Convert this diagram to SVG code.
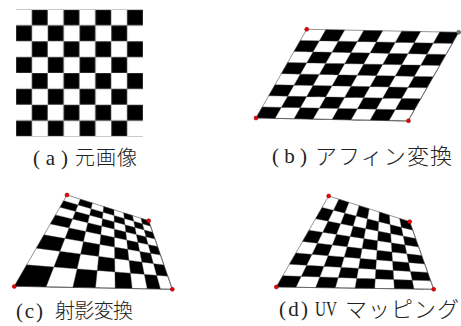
<svg xmlns="http://www.w3.org/2000/svg" width="461" height="326" viewBox="0 0 461 326">
<style>
.board{fill:#fff;stroke:#666;stroke-width:0.7}
.chk{fill:#000;fill-rule:evenodd;stroke:#555;stroke-width:0.4}
.dot{fill:#e00;stroke:#800;stroke-width:0.5}
.dotg{fill:#777;stroke:#444;stroke-width:0.5}
.lbl{font-family:"Liberation Serif","Noto Sans CJK JP",serif;font-size:21px;fill:#222}
.cjk{font-family:"Noto Sans CJK JP",sans-serif;font-size:20px;fill:#222;font-weight:300}
.big{font-size:22px}
</style>
<defs>
<pattern id="chkpat" patternUnits="userSpaceOnUse" x="16" y="9.5" width="31.75" height="31.75">
<rect x="0" y="0" width="31.75" height="31.75" fill="#fff"/>
<rect x="15.875" y="0" width="15.875" height="15.875" fill="#000" stroke="#888" stroke-width="0.6"/>
<rect x="0" y="15.875" width="15.875" height="15.875" fill="#000" stroke="#888" stroke-width="0.6"/>
</pattern>
</defs>
<rect width="461" height="326" fill="#fff"/>

<g id="fig-a">
<rect x="16" y="9.5" width="127" height="127" fill="url(#chkpat)"/>
<text class="lbl" x="33" y="165" textLength="35" lengthAdjust="spacing">(a)</text>
<text class="cjk" x="75" y="165" textLength="62" lengthAdjust="spacing">元画像</text>
</g>

<g id="fig-b">
<path class="board" d="M306.7,29.3 L458.7,32.3 L408,121 L256,118Z"/>
<path class="chk" d="M325.7,29.68 L344.7,30.05 L294,118.75 L275,118.38Z M363.7,30.43 L382.7,30.8 L332,119.5 L313,119.13Z M401.7,31.18 L420.7,31.55 L370,120.25 L351,119.88Z M439.7,31.93 L458.7,32.3 L408,121 L389,120.63Z M300.36,40.39 L452.36,43.39 L446.03,54.48 L294.03,51.48Z M287.69,62.56 L439.69,65.56 L433.35,76.65 L281.35,73.65Z M275.01,84.74 L427.01,87.74 L420.68,98.83 L268.68,95.83Z M262.34,106.91 L414.34,109.91 L408,121 L256,118Z"/>
<circle class="dot" cx="306.7" cy="29.3" r="2"/>
<circle class="dotg" cx="458.7" cy="32.3" r="2"/>
<circle class="dot" cx="256" cy="118" r="2"/>
<circle class="dot" cx="408.5" cy="120.8" r="2"/>
<text class="lbl" x="272" y="163" textLength="35" lengthAdjust="spacing">(b)</text>
<text class="cjk big" x="315" y="164" textLength="137" lengthAdjust="spacing">アフィン変換</text>
</g>

<g id="fig-c">
<path class="board" d="M67,195 L148.7,220.7 L172.3,289.3 L14.3,286.3Z"/>
<path class="chk" d="M80.24,199.17 L92.41,202.99 L72.79,287.41 L46.09,286.9Z M103.63,206.52 L114,209.78 L115.13,288.21 L95.53,287.84Z M123.62,212.81 L132.56,215.62 L147.18,288.82 L132.19,288.54Z M140.9,218.25 L148.7,220.7 L172.3,289.3 L160.46,289.08Z M63.72,200.68 L150.58,226.15 L152.66,232.2 L59.94,207.23Z M55.52,214.89 L154.98,238.96 L157.59,246.54 L50.29,223.94Z M44.01,234.82 L160.54,255.12 L163.91,264.91 L36.33,248.14Z M26.7,264.81 L167.79,276.19 L172.3,289.3 L14.3,286.3Z"/>
<circle class="dot" cx="67" cy="195" r="2"/>
<circle class="dot" cx="148.7" cy="220.7" r="2"/>
<circle class="dot" cx="172.3" cy="289.3" r="2"/>
<circle class="dot" cx="14.3" cy="286.5" r="2"/>
<text class="lbl" x="16" y="318" textLength="27" lengthAdjust="spacing">(c)</text>
<text class="cjk" x="55" y="318" textLength="78" lengthAdjust="spacing">射影変換</text>
</g>

<g id="fig-d">
<path class="board" d="M328.7,196 L409.7,221.7 L433.7,289.3 L276.3,287Z"/>
<path class="chk" d="M338.83,199.21 L348.95,202.43 L315.65,287.58 L295.98,287.29Z M359.08,205.64 L369.2,208.85 L355,288.15 L335.33,287.86Z M379.33,212.06 L389.45,215.28 L394.35,288.73 L374.68,288.44Z M399.58,218.49 L409.7,221.7 L433.7,289.3 L414.03,289.01Z M322.15,207.38 L412.7,230.15 L415.7,238.6 L315.6,218.75Z M309.05,230.13 L418.7,247.05 L421.7,255.5 L302.5,241.5Z M295.95,252.88 L424.7,263.95 L427.7,272.4 L289.4,264.25Z M282.85,275.63 L430.7,280.85 L433.7,289.3 L276.3,287Z"/>
<circle class="dot" cx="328.7" cy="196" r="2"/>
<circle class="dot" cx="409.7" cy="221.7" r="2"/>
<circle class="dot" cx="433.7" cy="289.3" r="2"/>
<circle class="dot" cx="276.3" cy="287" r="2"/>
<text class="lbl" x="279" y="316" textLength="29" lengthAdjust="spacing">(d)</text>
<text class="lbl" x="315" y="316" textLength="22" lengthAdjust="spacingAndGlyphs">UV</text>
<text class="cjk big" x="345" y="317" textLength="114" lengthAdjust="spacing">マッピング</text>
</g>
</svg>
